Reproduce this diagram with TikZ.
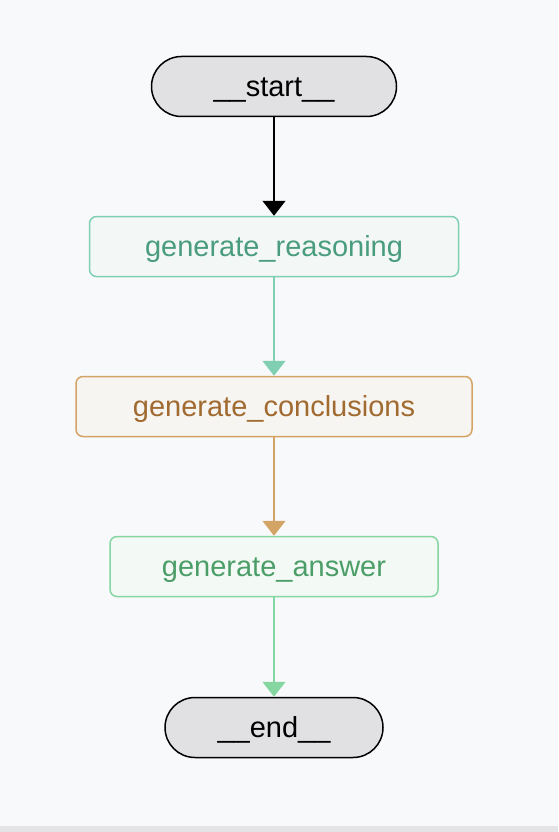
\documentclass[tikz,border=0pt]{standalone}
\usepackage{fontspec}
\setmainfont{Liberation Sans}
\usetikzlibrary{arrows.meta}
\definecolor{gBack}{HTML}{F8F9FB}
\definecolor{gEdge}{HTML}{E4E4E6}
\definecolor{gTerm}{HTML}{E1E1E3}
\definecolor{gTeal}{HTML}{80CFB3}
\definecolor{gTealText}{HTML}{4A9C7E}
\definecolor{gTealFill}{HTML}{F3F8F6}
\definecolor{gOchre}{HTML}{D4A466}
\definecolor{gOchreText}{HTML}{A06A30}
\definecolor{gOchreFill}{HTML}{F7F5F1}
\definecolor{gMint}{HTML}{86D6A2}
\definecolor{gMintText}{HTML}{4C9E68}
\definecolor{gMintFill}{HTML}{F3F9F5}

\begin{document}
\begin{tikzpicture}[yscale=-1,x=1pt,y=1pt,>={Triangle[width=23pt,length=15pt]}]
		\tikzstyle{BOX} = [line width=1.5pt, minimum height=60pt, inner sep=0pt, font=\fontsize{29}{34}\selectfont, text height=23pt, text depth=3.8pt]
		\tikzstyle{term} = [BOX, rounded corners=30pt, draw=black, fill=gTerm, text=black]
		\tikzstyle{reason} = [BOX, rounded corners=7pt, draw=gTeal, fill=gTealFill, text=gTealText]
		\tikzstyle{concl} = [BOX, rounded corners=7pt, draw=gOchre, fill=gOchreFill, text=gOchreText]
		\tikzstyle{answer} = [BOX, rounded corners=7pt, draw=gMint, fill=gMintFill, text=gMintText]

		\fill[gBack] (0,0) rectangle (558,832);
		\fill[gEdge] (0,826) rectangle (558,832);

		\node[term, minimum width=245pt] (start) at		(274, 86.5) {\_\_start\_\_};
		\node[reason, minimum width=369pt] (gReason) at		(274, 246.5) {generate\_reasoning};
		\node[concl, minimum width=396pt] (gConcl) at		(274, 406.5) {generate\_conclusions};
		\node[answer, minimum width=328pt] (gAnswer) at		(274, 566.5) {generate\_answer};
		\node[term, minimum width=218pt] (end) at		(274, 727.5) {\_\_end\_\_};

		\draw[->, line width=1.5pt, black] (start.south) -- (gReason.north);
		\draw[->, line width=1.5pt, gTeal] (gReason.south) -- (gConcl.north);
		\draw[->, line width=1.5pt, gOchre] (gConcl.south) -- (gAnswer.north);
		\draw[->, line width=1.5pt, gMint] (gAnswer.south) -- (end.north);

\end{tikzpicture}
\end{document}
